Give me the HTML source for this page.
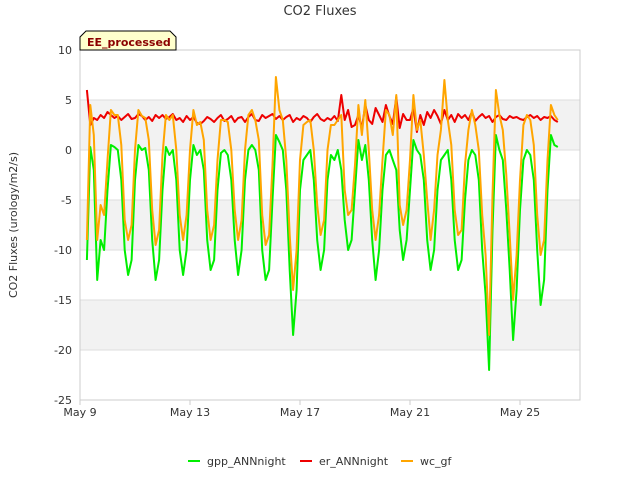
<!DOCTYPE html>
<html><head><meta charset="utf-8"><style>
body{margin:0;background:#fff;font-family:"Liberation Sans","DejaVu Sans",sans-serif}
svg text{font-family:"DejaVu Sans","Liberation Sans",sans-serif}
</style></head><body>
<svg id="c" width="640" height="480" xmlns="http://www.w3.org/2000/svg">
<rect width="640" height="480" fill="#fff"/>
<text x="320" y="15" text-anchor="middle" font-size="13" fill="#333">CO2 Fluxes</text>
<g id="bands"></g><g id="grid"></g>
<rect x="80" y="50" width="500" height="350" fill="none" stroke="#ccc"/>
<g id="series"></g><g id="axes"></g>
<text transform="translate(17,225) rotate(-90)" text-anchor="middle" font-size="11" fill="#333">CO2 Fluxes (urology/m2/s)</text>
<g>
<path d="M80,50 L80,37 L86,31 L170,31 L176,37 L176,50 Z" fill="#ffffcc" stroke="#000" stroke-width="1"/>
<text x="87" y="46" font-size="11" font-weight="bold" fill="#8b0000">EE_processed</text>
</g>
<g id="legend"></g>
</svg>
<script>
const yTicks=[10,5,0,-5,-10,-15,-20,-25];
const xTickDays=[0,4,8,12,16];
const xTickLabels=["May 9","May 13","May 17","May 21","May 25"];
const startHour=6, stepHours=3;
const gpp=[-11,0.3,-2,-13,-9,-10,
-4,0.5,0.3,0,-3,-10,-12.5,-11,
-3,0.5,0,0.2,-2,-9,-13,-11,
-4,0.3,-0.5,0,-3,-10,-12.5,-10,
-3,0.5,-0.5,0,-2,-9,-12,-11,
-4,-0.3,0,-0.5,-3,-9,-12.5,-10,
-3,0,0.5,0,-2,-10,-13,-12,
-5,1.5,0.8,0,-4,-12,-18.5,-14,
-4,-1,-0.5,0,-3,-9,-12,-10,
-3,-0.5,-1,0,-2,-7,-10,-9,
-4,1,-1,0.5,-3,-9,-13,-10,
-4,-0.5,0,-1,-2,-8,-11,-9,
-4,1,0,-0.5,-3,-9,-12,-10,
-4,-1,-0.5,0,-3,-9,-12,-11,
-5,-1,0,-0.5,-3,-10,-14.5,-22,
-8,1.5,0,-1,-6,-12,-19,-14,
-6,-1,0,-0.5,-3,-10,-15.5,-13,
-4,1.5,0.5,0.3];
const er=[6,2.5,3.2,3,3.5,3.2,
3.8,3.5,3.2,3.4,3,3.3,3.6,3.1,
3.2,3.6,3.4,3,3.3,2.9,3.5,3.2,
3.5,3.1,3.3,3.6,3,3.2,2.8,3.4,
3,3.3,2.7,2.6,2.9,3.3,3.1,2.8,
3.2,3.5,2.9,3.1,3.4,2.8,3.2,3.3,
2.8,3.3,3.6,3,2.9,3.5,3.2,3.4,
3.6,3.1,3.4,3,3.3,3.5,2.8,3.2,
3,3.4,3.2,2.8,3.3,3.6,3.1,2.9,
3.2,3,3.4,2.9,5.5,3,4,2.3,
2.5,3.5,2.2,4.5,3,2.6,4.2,3.5,
2.8,4.5,3.4,2.6,5.3,2.2,3.6,3,
3,4.2,1.8,3.5,2.5,3.8,3.2,4,
3.4,2.6,4,3,3.5,2.8,3.6,3.2,
3.5,3,3.8,2.9,3.3,3.6,3.2,3.4,
2.8,3.3,3.5,3.1,3,3.4,3.2,3.3,
3.1,3,3.3,3.5,3.2,3.4,3,3.3,
3.2,3.4,3,2.8];
const wc=[-9,4.5,1.5,-9,-5.5,-6.5,
-1,4,3.5,3.5,0.5,-7,-9,-7.5,
0,4,3.4,3.2,1,-6,-9.5,-8,
-0.5,3.5,3,3.5,0,-6.5,-9,-6.5,
0,4,2.5,2.8,1,-6,-9,-7.5,
-1,3,3,2.8,0,-6,-9,-7,
0,3.5,4,3,1,-6.5,-9.5,-8.5,
-1.5,7.3,4,3,-1,-8.5,-14,-10,
-1,2.5,2.8,3,0,-5.5,-8.5,-7,
0,2.5,2.5,3,3.5,-4,-6.5,-6,
-1.5,4.5,1.5,5,0,-6,-9,-6.5,
-1,4,3.5,1.5,5.5,-5.5,-7.5,-6,
-1,5.5,2,3,-0.5,-5,-9,-6,
-0.5,2,7,3,0.5,-6,-8.5,-8,
-1.5,2,4,2.5,0,-6.5,-10.5,-18.5,
-4.5,6,3.5,2,-2.5,-8.5,-15,-10.5,
-3,2.5,3.5,3,0.5,-6.5,-10.5,-9,
-1,4.5,3.5,3];
const NS="http://www.w3.org/2000/svg";
const X=d=>80+d*27.5;
const Y=v=>150-v*10;
function mk(t,a,p){const e=document.createElementNS(NS,t);for(const k in a)e.setAttribute(k,a[k]);p.appendChild(e);return e;}
const bands=document.getElementById('bands');
[5,-5,-15].forEach(v=>{const r=mk('rect',{x:80,y:Y(v),width:500,height:Y(v-5)-Y(v),fill:'#f2f2f2'},bands);

});
const grid=document.getElementById('grid'),axes=document.getElementById('axes');
yTicks.forEach(v=>{const l=mk('line',{x1:80,x2:580,y1:Y(v),y2:Y(v),stroke:'#ddd'},grid);


const t=mk('text',{x:72,y:Y(v)+4,'text-anchor':'end','font-size':11,fill:'#333'},axes);t.textContent=v;

});
xTickDays.forEach((d,i)=>{const l=mk('line',{x1:X(d),x2:X(d),y1:400,y2:405,stroke:'#ccc'},axes);


const t=mk('text',{x:X(d),y:416,'text-anchor':'middle','font-size':11,fill:'#333'},axes);t.textContent=xTickLabels[i];

});
const ser=document.getElementById('series');
function line(data,color,name){const pts=data.map((v,i)=>X((startHour+i*stepHours)/24).toFixed(1)+','+Y(v).toFixed(1)).join(' ');
const p=mk('polyline',{points:pts,fill:'none',stroke:color,'stroke-width':2,'stroke-linejoin':'round'},ser);

}
line(gpp,'#00ee00','gpp-annnight-line');
line(er,'#ee0000','er-annnight-line');
line(wc,'#ffa500','wc-gf-line');
const leg=document.getElementById('legend');
[['gpp_ANNnight','#00ee00',188],['er_ANNnight','#ee0000',300],['wc_gf','#ffa500',401]].forEach(([n,c,x])=>{
const g=mk('g',{},leg);


mk('line',{x1:x,x2:x+12,y1:461,y2:461,stroke:c,'stroke-width':2},g);
const t=mk('text',{x:x+19,y:465,'font-size':11,fill:'#333'},g);t.textContent=n;});
</script>
</body></html>
